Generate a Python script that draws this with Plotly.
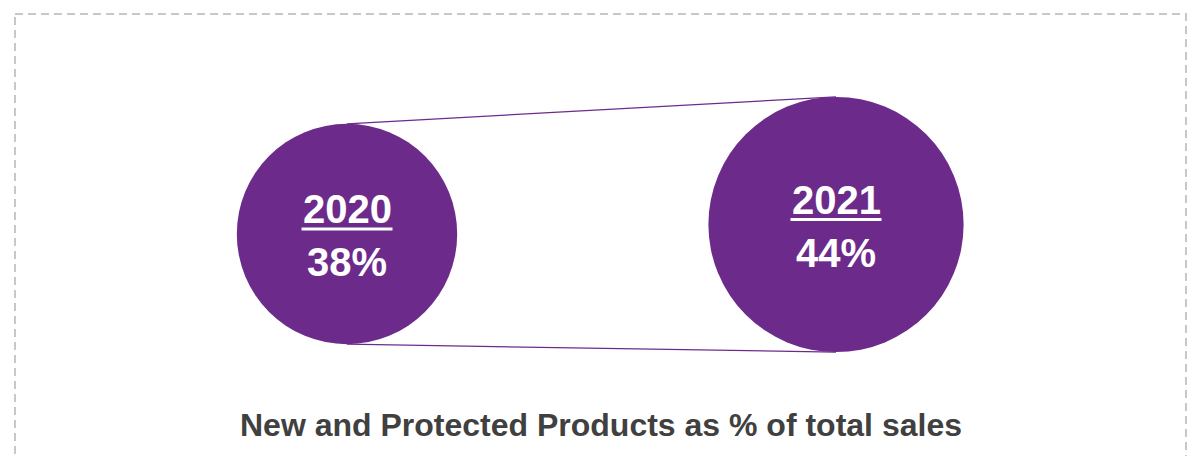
import plotly.graph_objects as go

years = ["2020", "2021"]
values = [38, 44]
labels = ["38%", "44%"]
title_text = "New and Protected Products as % of total sales"

# layout (pixel-based coordinates)
W, H = 1201, 456
cx = [347, 836]
cy = [234, 224.5]
px_per_unit = 2.9          # radius in px per percentage point
radii = [v * px_per_unit for v in values]
purple = "#6C2B8B"
font_in = 40
digit_w = 0.556 * font_in   # Arial bold digit advance

fig = go.Figure()

# connecting lines (top and bottom of the circles)
tops = [c - r for c, r in zip(cy, radii)]
bottoms = [c + r for c, r in zip(cy, radii)]
fig.add_trace(go.Scatter(x=cx, y=tops, mode="lines",
                         line=dict(color=purple, width=1.2), hoverinfo="skip", showlegend=False))
fig.add_trace(go.Scatter(x=cx, y=bottoms, mode="lines",
                         line=dict(color=purple, width=1.2), hoverinfo="skip", showlegend=False))

# circles
fig.add_trace(go.Scatter(
    x=cx, y=cy, mode="markers",
    marker=dict(size=[2 * r for r in radii], sizemode="diameter", color=purple,
                line=dict(width=0), opacity=1),
    text=years, hoverinfo="text", showlegend=False))

# texts in circles
for x, y, yr, lab in zip(cx, cy, years, labels):
    fig.add_annotation(x=x, y=y - 25, text=f"<b>{yr}</b>", showarrow=False,
                       xanchor="center", yanchor="middle",
                       font=dict(family="Liberation Sans, Arial", size=font_in, color="white"))
    half = len(yr) * digit_w / 2 + 1
    fig.add_shape(type="line", x0=x - half, x1=x + half, y0=y - 5, y1=y - 5,
                  line=dict(color="white", width=3), layer="above")
    fig.add_annotation(x=x, y=y + 28, text=f"<b>{lab}</b>", showarrow=False,
                       xanchor="center", yanchor="middle",
                       font=dict(family="Liberation Sans, Arial", size=font_in, color="white"))

# title
fig.add_annotation(x=601, y=425, text=f"<b>{title_text}</b>", showarrow=False,
                   xanchor="center", yanchor="middle",
                   font=dict(family="Liberation Sans, Arial", size=32, color="#404040"))

# dashed border
fig.add_shape(type="rect", x0=15, y0=14, x1=1186, y1=480,
              line=dict(color="#C8C8C8", width=2, dash="8px,5px"), layer="below")

fig.update_layout(
    width=W, height=H,
    margin=dict(l=0, r=0, t=0, b=0),
    paper_bgcolor="white", plot_bgcolor="white",
    xaxis=dict(range=[0, W], visible=False, fixedrange=True),
    yaxis=dict(range=[H, 0], visible=False, fixedrange=True),
)

fig.write_html("out.html")
